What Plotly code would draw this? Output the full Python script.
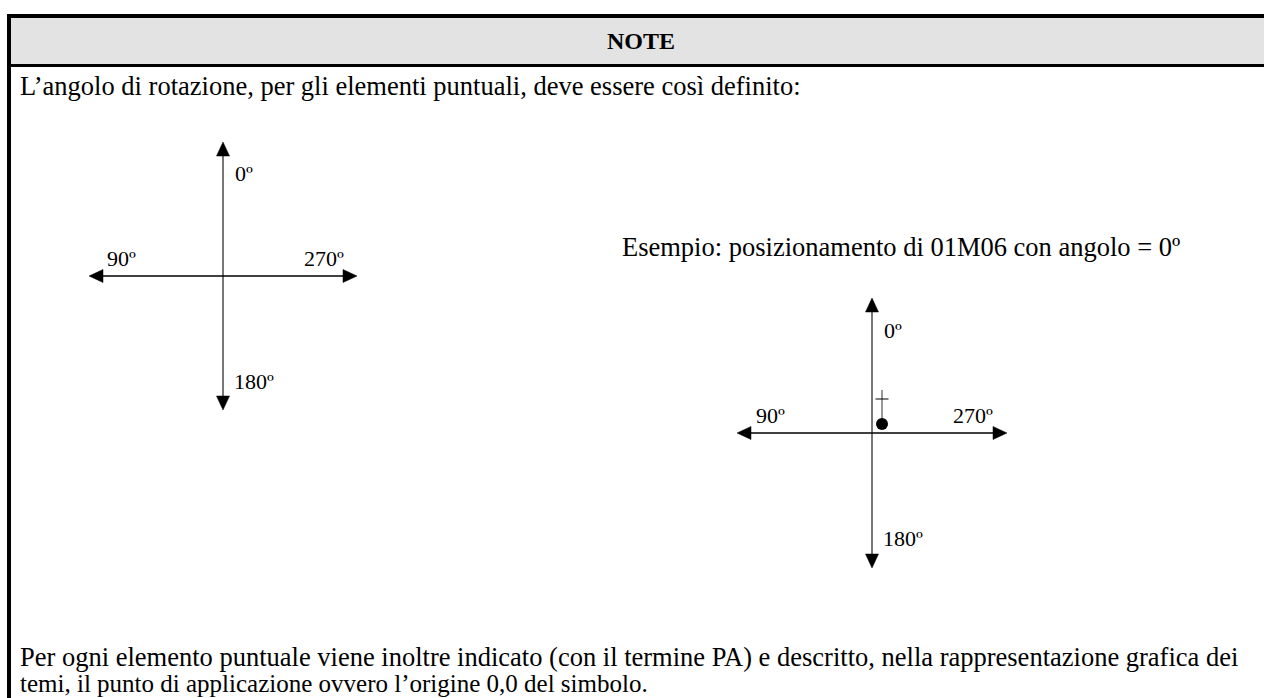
import plotly.graph_objects as go

W, H = 1264, 698

# ---- content ----
header_text = "NOTE"
intro_text = "L\u2019angolo di rotazione, per gli elementi puntuali, deve essere così definito:"
example_text = "Esempio: posizionamento di 01M06 con angolo = 0º"
footer_lines = [
    "Per ogni elemento puntuale viene inoltre indicato (con il termine PA) e descritto, nella rappresentazione grafica dei",
    "temi, il punto di applicazione ovvero l\u2019origine 0,0 del simbolo.",
]

# compass directions (angle labels) and their unit vectors (screen coords, y down)
angle_labels = ["0º", "90º", "180º", "270º"]
angle_dirs = [(0, -1), (-1, 0), (0, 1), (1, 0)]

# compass centres and arm length
compass_centres = [(223, 276), (872, 433)]
arm_length = [134, 135]

# label offsets relative to centre (left edge x, middle y)
label_offsets = [(10, -103), (-118, -18), (9, 105), (79, -18)]

# example symbol (01M06) relative to the second compass centre
symbol_offset = (10, -9)
symbol_stem = 34
symbol_bar_at = 25
symbol_bar_half = 6.5

FONT = "Liberation Serif"
BODY = 26.5
FOOT = 26
LABEL = 22
HEAD = 24

fig = go.Figure()

# ---- frame ----
shapes = [
    dict(type="rect", x0=11, x1=W + 5, y0=18, y1=64, fillcolor="#e3e3e3", line_width=0, layer="below"),
    dict(type="rect", x0=7, x1=W + 5, y0=14, y1=18, fillcolor="black", line_width=0),
    dict(type="rect", x0=7, x1=W + 5, y0=64, y1=67, fillcolor="black", line_width=0),
    dict(type="rect", x0=7, x1=11, y0=14, y1=H + 5, fillcolor="black", line_width=0),
]

annotations = [
    dict(x=641, y=41, text="<b>" + header_text + "</b>", showarrow=False,
         xanchor="center", yanchor="middle", font=dict(family=FONT, size=HEAD, color="black")),
    dict(x=18, y=86, text=intro_text, showarrow=False,
         xanchor="left", yanchor="middle", font=dict(family=FONT, size=BODY, color="black")),
    dict(x=620, y=247, text=example_text, showarrow=False,
         xanchor="left", yanchor="middle", font=dict(family=FONT, size=BODY, color="black")),
    dict(x=18, y=657, text=footer_lines[0], showarrow=False,
         xanchor="left", yanchor="middle", font=dict(family=FONT, size=FOOT + 0.5, color="black")),
    dict(x=18, y=683, text=footer_lines[1], showarrow=False,
         xanchor="left", yanchor="middle", font=dict(family=FONT, size=FOOT - 1, color="black")),
]

head_len, head_half = 14, 6.5

for (cx, cy), L in zip(compass_centres, arm_length):
    # axis lines
    fig.add_trace(go.Scatter(x=[cx, cx], y=[cy - L + head_len, cy + L - head_len], mode="lines",
                             line=dict(color="#555555", width=1.6), hoverinfo="skip", showlegend=False))
    fig.add_trace(go.Scatter(x=[cx - L + head_len, cx + L - head_len], y=[cy, cy], mode="lines",
                             line=dict(color="black", width=1.3), hoverinfo="skip", showlegend=False))
    # arrow heads
    for (dx, dy) in angle_dirs:
        tx, ty = cx + dx * L, cy + dy * L
        bx, by = tx - dx * head_len, ty - dy * head_len
        px, py = -dy, dx
        xs = [tx, bx + px * head_half, bx - px * head_half, tx]
        ys = [ty, by + py * head_half, by - py * head_half, ty]
        fig.add_trace(go.Scatter(x=xs, y=ys, mode="lines", fill="toself", fillcolor="black",
                                 line=dict(color="black", width=0.5), hoverinfo="skip", showlegend=False))
    # labels
    for lab, (ox, oy) in zip(angle_labels, label_offsets):
        annotations.append(dict(x=cx + ox, y=cy + oy, text=lab, showarrow=False,
                                xanchor="left", yanchor="middle",
                                font=dict(family=FONT, size=LABEL, color="black")))

# example symbol on the second compass
cx, cy = compass_centres[1]
sx, sy = cx + symbol_offset[0], cy + symbol_offset[1]
fig.add_trace(go.Scatter(x=[sx, sx], y=[sy, sy - symbol_stem], mode="lines",
                         line=dict(color="#555555", width=1.2), hoverinfo="skip", showlegend=False))
fig.add_trace(go.Scatter(x=[sx - symbol_bar_half, sx + symbol_bar_half], y=[sy - symbol_bar_at] * 2, mode="lines",
                         line=dict(color="black", width=1), hoverinfo="skip", showlegend=False))
fig.add_trace(go.Scatter(x=[sx], y=[sy], mode="markers",
                         marker=dict(color="black", size=12, line_width=0), hoverinfo="skip", showlegend=False))

fig.update_layout(
    width=W, height=H, autosize=False,
    margin=dict(l=0, r=0, t=0, b=0, pad=0),
    paper_bgcolor="white", plot_bgcolor="white",
    xaxis=dict(range=[0, W], visible=False, fixedrange=True),
    yaxis=dict(range=[H, 0], visible=False, fixedrange=True),
    shapes=shapes, annotations=annotations,
    showlegend=False,
)

fig.write_html("out.html", config={"displayModeBar": False},
               post_script="document.body.style.margin='0';document.body.style.overflow='hidden';")
